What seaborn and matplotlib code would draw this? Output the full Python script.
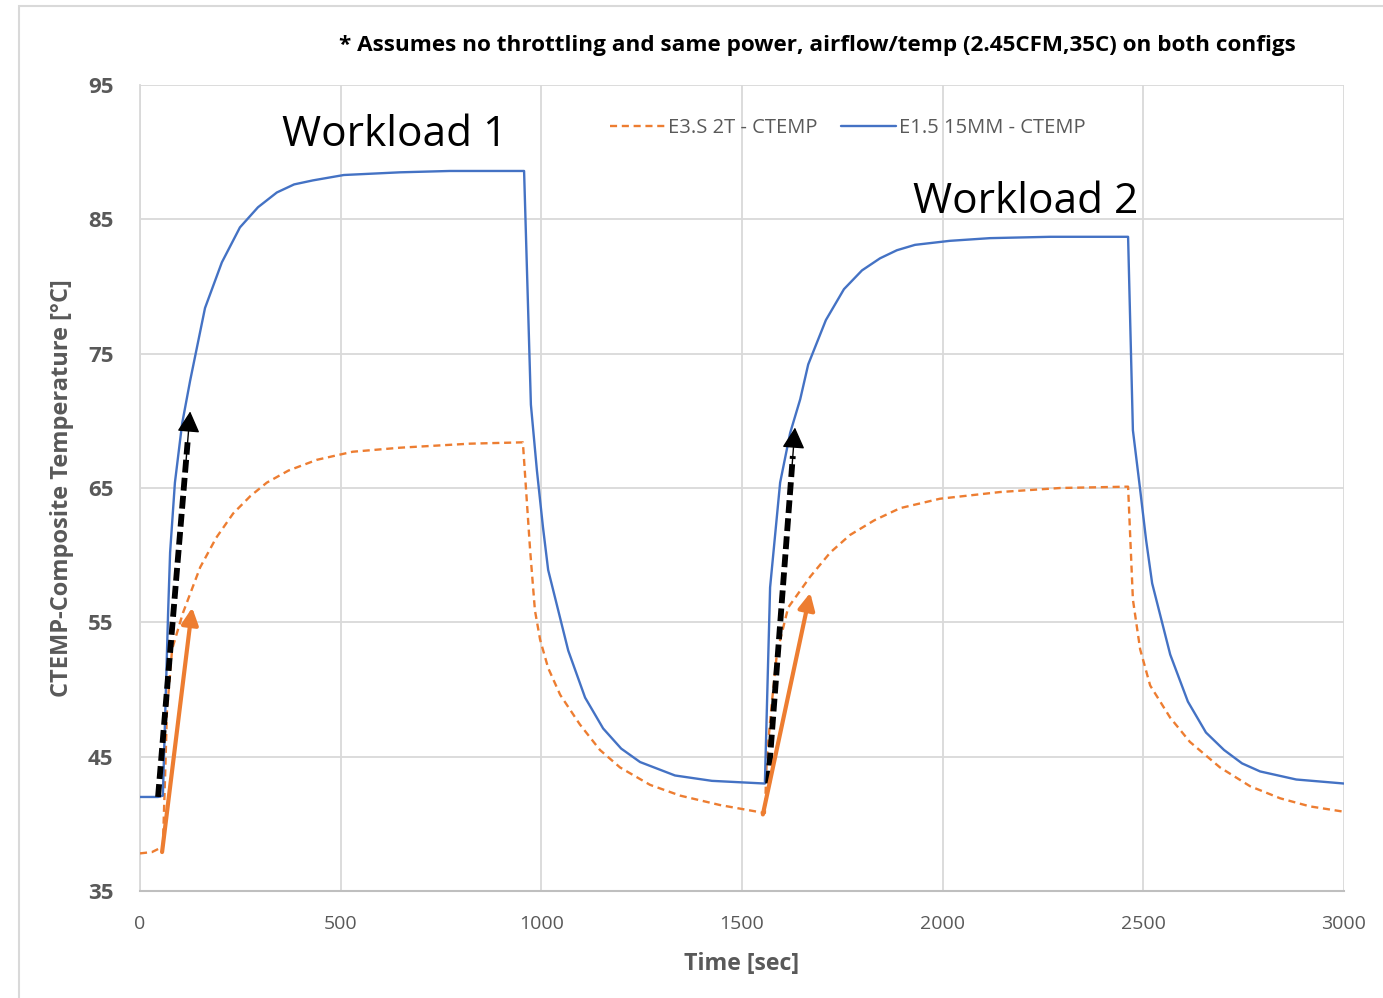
import matplotlib
matplotlib.use("Agg")
import matplotlib.pyplot as plt
import seaborn as sns
import pandas as pd
from matplotlib.patches import Rectangle

# ---- data ----
blue_t = [0, 45, 57, 70, 75, 87, 105, 125, 162, 204, 249, 294, 341, 384, 431, 508, 648, 772, 957,
          974, 989, 1004, 1017, 1067, 1109, 1154, 1199, 1246, 1333, 1425, 1557,
          1570, 1595, 1620, 1645, 1665, 1709, 1754, 1799, 1844, 1886, 1931, 2018, 2118, 2268, 2462,
          2474, 2492, 2507, 2522, 2567, 2611, 2656, 2701, 2746, 2791, 2881, 3000]
blue_v = [42.0, 42.0, 42.1, 55.7, 60.2, 65.4, 69.8, 73.0, 78.4, 81.8, 84.4, 85.9, 87.0, 87.6, 87.9, 88.3, 88.5, 88.6, 88.6,
          71.2, 66.3, 62.1, 58.9, 52.9, 49.4, 47.1, 45.6, 44.6, 43.6, 43.2, 43.0,
          57.6, 65.4, 69.1, 71.6, 74.2, 77.5, 79.8, 81.2, 82.1, 82.7, 83.1, 83.4, 83.6, 83.7, 83.7,
          69.3, 64.9, 61.1, 57.9, 52.6, 49.1, 46.8, 45.5, 44.5, 43.9, 43.3, 43.0]

orange_t = [0, 30, 57, 63, 67, 80, 107, 150, 190, 232, 275, 316, 370, 441, 530, 648, 822, 954,
            972, 984, 997, 1017, 1047, 1096, 1146, 1196, 1271, 1346, 1445, 1557,
            1562, 1575, 1587, 1615, 1670, 1720, 1769, 1830, 1894, 1993, 2143, 2293, 2462,
            2474, 2492, 2517, 2567, 2616, 2691, 2766, 2841, 2915, 3000]
orange_v = [37.8, 37.9, 38.3, 44.0, 48.3, 53.0, 55.7, 59.1, 61.3, 63.1, 64.4, 65.4, 66.3, 67.1, 67.7, 68.0, 68.3, 68.4,
            60.4, 55.9, 53.7, 51.6, 49.6, 47.4, 45.5, 44.2, 42.9, 42.1, 41.4, 40.8,
            45.0, 49.2, 52.7, 56.1, 58.4, 60.2, 61.5, 62.6, 63.5, 64.2, 64.7, 65.0, 65.1,
            56.7, 53.0, 50.3, 47.9, 46.1, 44.2, 42.8, 41.9, 41.3, 40.9]

series_names = ["E3.S 2T - CTEMP", "E1.5 15MM - CTEMP"]
series_colors = ["#ED7D31", "#4472C4"]

x_ticks = [0, 500, 1000, 1500, 2000, 2500, 3000]
y_ticks = [35, 45, 55, 65, 75, 85, 95]

# arrows: (start_t, start_v, end_t, end_v)
black_arrows = [(45, 42.0, 125, 70.7), (1565, 43.0, 1632, 69.5)]
orange_arrows = [(55, 37.9, 130, 56.1), (1552, 40.7, 1670, 57.2)]

labels = [("Workload 1", 635, 91.3), ("Workload 2", 2208, 86.3)]
note = "* Assumes no throttling and same power, airflow/temp (2.45CFM,35C) on both configs"

# ---- plot ----
sns.set_style("white")
plt.rcParams['font.family'] = ['Open Sans', 'DejaVu Sans']

fig = plt.figure(figsize=(13.83, 9.98), dpi=100)
ax = fig.add_axes([140/1383, 1-891/998, (1344-140)/1383, (891-85)/998])

df_o = pd.DataFrame({"t": orange_t, "v": orange_v})
df_b = pd.DataFrame({"t": blue_t, "v": blue_v})
sns.lineplot(data=df_o, x="t", y="v", ax=ax, color=series_colors[0], lw=1.7,
             linestyle=(0, (3, 2)), label=series_names[0], zorder=3)
sns.lineplot(data=df_b, x="t", y="v", ax=ax, color=series_colors[1], lw=1.7,
             label=series_names[1], zorder=3)

ax.set_xlim(0, 3000)
ax.set_ylim(35, 95)
ax.set_xticks(x_ticks)
ax.set_yticks(y_ticks)
ax.grid(True, color="#D9D9D9", lw=1.3)
for s in ["top", "right"]:
    ax.spines[s].set_visible(False)
ax.spines["left"].set_color("#D9D9D9")
ax.spines["left"].set_linewidth(1.3)
ax.spines["bottom"].set_color("#BFBFBF")
ax.spines["bottom"].set_linewidth(1.5)
ax.tick_params(axis="both", length=0)
ax.tick_params(axis="y", labelsize=16, labelcolor="#595959", pad=19)
ax.tick_params(axis="x", labelsize=14, labelcolor="#595959", pad=17)
for lab in ax.get_yticklabels():
    lab.set_fontweight("bold")

ax.set_xlabel("Time [sec]", fontsize=16.7, fontweight="bold", color="#595959", labelpad=14)
ax.set_ylabel("CTEMP-Composite Temperature [°C]", fontsize=17, fontweight="bold",
              color="#595959")
ax.yaxis.set_label_coords((74 - 140) / 1204, 0.5)

leg = ax.legend(loc="center", bbox_to_anchor=(0.588, 0.947), ncol=2, frameon=False,
                fontsize=14.5, handlelength=2.7, handletextpad=0.15, columnspacing=1.2)
for t in leg.get_texts():
    t.set_color("#595959")

# arrows
for (x0, y0, x1, y1) in black_arrows:
    fx = x0 + (x1 - x0) * 0.92
    fy = y0 + (y1 - y0) * 0.92
    ax.plot([x0, fx], [y0, fy], color="black", lw=4.2, linestyle=(0, (2.2, 0.9)),
            solid_capstyle="butt", dash_capstyle="butt", zorder=5)
    ax.annotate("", xy=(x1, y1), xytext=(fx - (x1 - x0) * 0.05, fy - (y1 - y0) * 0.05),
                arrowprops=dict(arrowstyle="-|>,head_length=1.3,head_width=0.7",
                                color="black", lw=1, shrinkA=0, shrinkB=0), zorder=6)
for (x0, y0, x1, y1) in orange_arrows:
    ax.annotate("", xy=(x1, y1), xytext=(x0, y0),
                arrowprops=dict(arrowstyle="-|>,head_length=1.0,head_width=0.5",
                                color="#ED7D31", lw=3, shrinkA=0, shrinkB=0), zorder=6)

for (txt, x, y) in labels:
    ax.text(x, y, txt, fontsize=30.5, ha="center", va="center", color="black", zorder=7)

fig.text(817/1383, 1-45/998, note, fontsize=16.2, fontweight="bold", ha="center",
         va="center", color="black")

# outer chart border
fig.patches.append(Rectangle((19/1383, -0.05), 1.1, 1-6/998 + 0.05, transform=fig.transFigure,
                             fill=False, edgecolor="#D9D9D9", lw=1.5, clip_on=False))

fig.savefig("out.png", dpi=100)
